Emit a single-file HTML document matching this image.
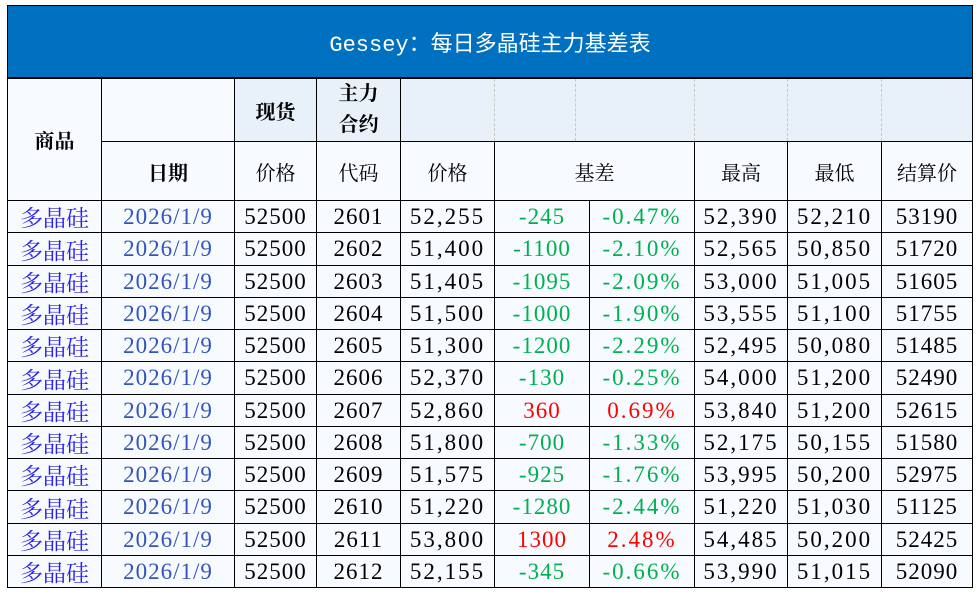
<!DOCTYPE html>
<html><head><meta charset="utf-8"><style>
body{margin:0;width:980px;height:597px;background:#fff;position:relative;overflow:hidden;font-family:"Liberation Serif","Noto Serif CJK SC",serif;}
.c{position:absolute;box-sizing:border-box;display:flex;align-items:center;justify-content:center;text-align:center;}
#title{position:absolute;left:7px;top:5px;width:966px;height:73px;background:#0070c0;color:#fff;display:flex;align-items:center;justify-content:center;font-size:22px;font-family:"Liberation Mono","Noto Sans CJK SC",monospace;border:1px solid #000;box-sizing:border-box;}
</style></head><body>
<div id="title">Gessey：每日多晶硅主力基差表</div>
<div id="t"></div>
<script>
const products=["多晶硅","多晶硅","多晶硅","多晶硅","多晶硅","多晶硅","多晶硅","多晶硅","多晶硅","多晶硅","多晶硅","多晶硅"];
const dates=["2026/1/9","2026/1/9","2026/1/9","2026/1/9","2026/1/9","2026/1/9","2026/1/9","2026/1/9","2026/1/9","2026/1/9","2026/1/9","2026/1/9"];
const spot=[52500,52500,52500,52500,52500,52500,52500,52500,52500,52500,52500,52500];
const codes=["2601","2602","2603","2604","2605","2606","2607","2608","2609","2610","2611","2612"];
const prices=["52,255","51,400","51,405","51,500","51,300","52,370","52,860","51,800","51,575","51,220","53,800","52,155"];
const basis=[-245,-1100,-1095,-1000,-1200,-130,360,-700,-925,-1280,1300,-345];
const basisPct=["-0.47%","-2.10%","-2.09%","-1.90%","-2.29%","-0.25%","0.69%","-1.33%","-1.76%","-2.44%","2.48%","-0.66%"];
const highs=["52,390","52,565","53,000","53,555","52,495","54,000","53,840","52,175","53,995","51,220","54,485","53,990"];
const lows=["52,210","50,850","51,005","51,100","50,080","51,200","51,200","50,155","50,200","51,030","50,200","51,015"];
const settles=["53190","51720","51605","51755","51485","52490","52615","51580","52975","51125","52425","52090"];
const X=[7,101,234,316,400,494,589,694,787,881,972];
const t=document.getElementById('t');
function cell(x1,x2,y1,y2,txt,st){
  const d=document.createElement('div');d.className='c';
  d.style.left=x1+'px';d.style.top=y1+'px';d.style.width=(x2-x1+1)+'px';d.style.height=(y2-y1+1)+'px';
  d.style.border='1px solid #000';
  Object.assign(d.style,st||{});d.textContent=txt;t.appendChild(d);return d;
}
const hb={background:'#f7fbff',fontSize:'20px'};
let e;
e=cell(7,101,78,200,'商品',Object.assign({},hb,{fontWeight:'bold'}));


e=cell(101,234,78,141,'',hb);


e=cell(234,316,78,141,'现货',{background:'#e8f0fa',fontSize:'20px',fontWeight:'bold'});


e=cell(316,400,78,141,'主力\n合约',{background:'#e8f0fa',fontSize:'20px',fontWeight:'bold',whiteSpace:'pre',lineHeight:'31px'});


e=cell(400,972,78,141,'',{background:'#e8f0fa'});


[494,575,694,787,881].forEach(x=>{const d=document.createElement('div');d.style.cssText='position:absolute;top:79px;height:62px;left:'+x+'px;border-left:1px dashed #c8c8c8';t.appendChild(d);});
const h2=[['日期',101,234,true],['价格',234,316],['代码',316,400],['价格',400,494],['基差',494,694],['最高',694,787],['最低',787,881],['结算价',881,972]];
h2.forEach(h=>{e=cell(h[1],h[2],141,200,h[0],Object.assign({},hb,{fontWeight:h[3]?'bold':'normal'}));

});
const RH=32.25;
for(let i=0;i<12;i++){
  const y1=Math.round(200+i*RH),y2=Math.round(200+(i+1)*RH);
  const col=basis[i]<0?'#00b050':'#ff0000';
  const vals=[[products[i],'#2a1ee8',0],[dates[i],'#3355bb',1],[String(spot[i]),'#000',1],[codes[i],'#000',1],[prices[i],'#000',2],[String(basis[i]),col,1],[basisPct[i],col,2],[highs[i],'#000',2],[lows[i],'#000',2],[settles[i],'#000',1]];
  vals.forEach((v,j)=>{
    e=cell(X[j],X[j+1],y1,y2,v[0],{background:'#f7fbff',fontSize:'23px',color:v[1],letterSpacing:v[2]+'px'});
    
    
  });
}
</script>
</body></html>
